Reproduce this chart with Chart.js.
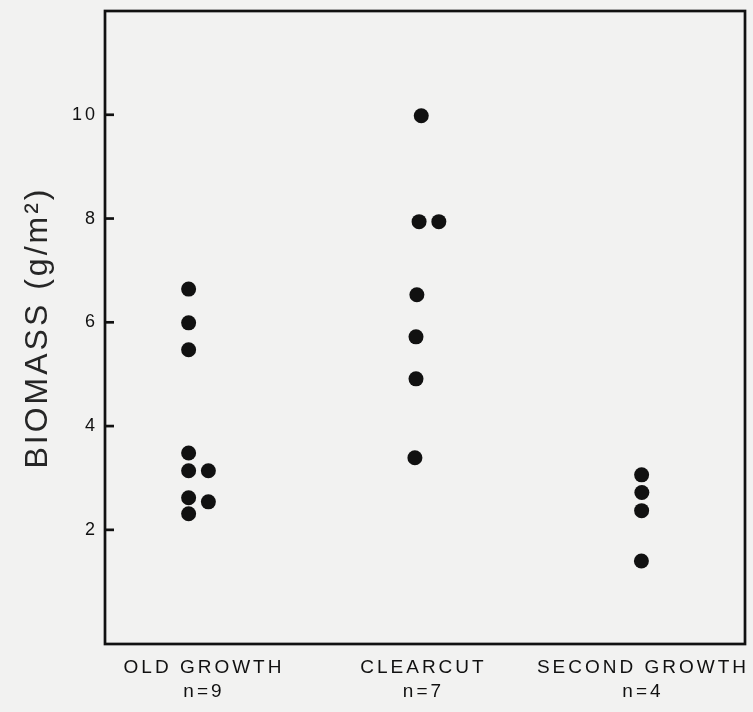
<!DOCTYPE html>
<html>
<head>
<meta charset="utf-8">
<script src="https://cdn.jsdelivr.net/npm/chart.js@4/dist/chart.umd.min.js"></script>
<style>
  body { margin: 0; background: #f2f2f1; }
  #wrap { width: 753px; height: 712px; }
</style>
</head>
<body>
<div id="wrap"><canvas id="myChart"></canvas></div>
<script>
//DATA
var categories = ['OLD GROWTH', 'CLEARCUT', 'SECOND GROWTH'];
var sampleSizes = ['n=9', 'n=7', 'n=4'];
var yTicks = [2, 4, 6, 8, 10];

// biomass values
var oldGrowth = [6.64, 5.99, 5.47, 3.48, 3.14, 3.14, 2.62, 2.54, 2.31];
var clearcut = [9.98, 7.94, 7.94, 6.53, 5.72, 4.91, 3.39];
var secondGrowth = [3.06, 2.72, 2.37, 1.40];

// horizontal place of each dot (category index, dots were set side by side by hand)
var oldGrowthX = [-0.07, -0.07, -0.07, -0.07, -0.07, 0.02, -0.07, 0.02, -0.07];
var clearcutX = [0.99, 0.98, 1.07, 0.97, 0.966, 0.966, 0.961];
var secondGrowthX = [1.994, 1.995, 1.994, 1.993];

var ink = '#111111';

var toPoints = function (xs, ys) {
  var pts = [];
  for (var i = 0; i < ys.length; i += 1) {
    pts.push({ x: xs[i], y: ys[i] });
  }
  return pts;
};

var dotSet = function (xs, ys) {
  return {
    data: toPoints(xs, ys),
    pointRadius: 7.5,
    pointHoverRadius: 7.5,
    pointBackgroundColor: ink,
    pointBorderWidth: 0,
    showLine: false
  };
};

//STEP 1
  //paper, frame and the short inside ticks on the left axis
var paper = {
  id: 'paper',
  beforeDraw: function (chart) {
    var ctx = chart.ctx;
    ctx.save();
    ctx.fillStyle = '#f2f2f1';
    ctx.fillRect(0, 0, chart.width, chart.height);
    ctx.restore();
    ctx.letterSpacing = '3px';
  },
  afterDraw: function (chart) {
    var ctx = chart.ctx;
    var a = chart.chartArea;
    var y = chart.scales.y;
    ctx.save();
    ctx.strokeStyle = ink;
    ctx.lineWidth = 2.7;
    ctx.strokeRect(a.left, a.top, a.right - a.left, a.bottom - a.top);
    y.ticks.forEach(function (t) {
      var py = y.getPixelForValue(t.value);
      ctx.beginPath();
      ctx.moveTo(a.left, py);
      ctx.lineTo(a.left + 9, py);
      ctx.stroke();
    });
    ctx.restore();
    ctx.letterSpacing = '0px';
  }
};

//STEP 2
  //create chart
var $ctx = document.getElementById('myChart');
var myChart = new Chart($ctx, {
  type: 'scatter',
  data: {
    datasets: [
      dotSet(oldGrowthX, oldGrowth),
      dotSet(clearcutX, clearcut),
      dotSet(secondGrowthX, secondGrowth)
    ]
  },
  options: {
    responsive: true,
    maintainAspectRatio: false,
    animation: false,
    layout: { padding: { top: 11, right: 8, left: 0, bottom: 0 } },
    plugins: {
      legend: { display: false },
      tooltip: { enabled: false }
    },
    scales: {
      x: {
        type: 'linear',
        min: -0.451,
        max: 2.465,
        afterBuildTicks: function (scale) {
          scale.ticks = categories.map(function (c, i) { return { value: i }; });
        },
        afterFit: function (scale) {
          scale.height = 68;
          scale.paddingLeft = 0;
          scale.paddingRight = 0;
        },
        grid: { display: false, drawTicks: false },
        border: { display: false },
        ticks: {
          padding: 12,
          color: ink,
          maxRotation: 0,
          autoSkip: false,
          font: { family: 'Liberation Sans', size: 19, lineHeight: 1.26 },
          callback: function (v) { return [categories[v], sampleSizes[v]]; }
        }
      },
      y: {
        min: -0.2,
        max: 12,
        afterBuildTicks: function (scale) {
          scale.ticks = yTicks.map(function (v) { return { value: v }; });
        },
        afterFit: function (scale) {
          scale.width = 105;
          scale.paddingTop = 0;
          scale.paddingBottom = 0;
        },
        grid: { display: false, drawTicks: false },
        border: { display: false },
        ticks: {
          padding: 7,
          color: ink,
          font: { family: 'Liberation Sans', size: 18 }
        },
        title: {
          display: true,
          text: 'BIOMASS (g/m²)',
          color: '#262626',
          padding: { top: 19, bottom: 0 },
          font: { family: 'Liberation Sans', size: 32, lineHeight: 1.2 }
        }
      }
    }
  },
  plugins: [paper]
});
</script>
</body>
</html>
